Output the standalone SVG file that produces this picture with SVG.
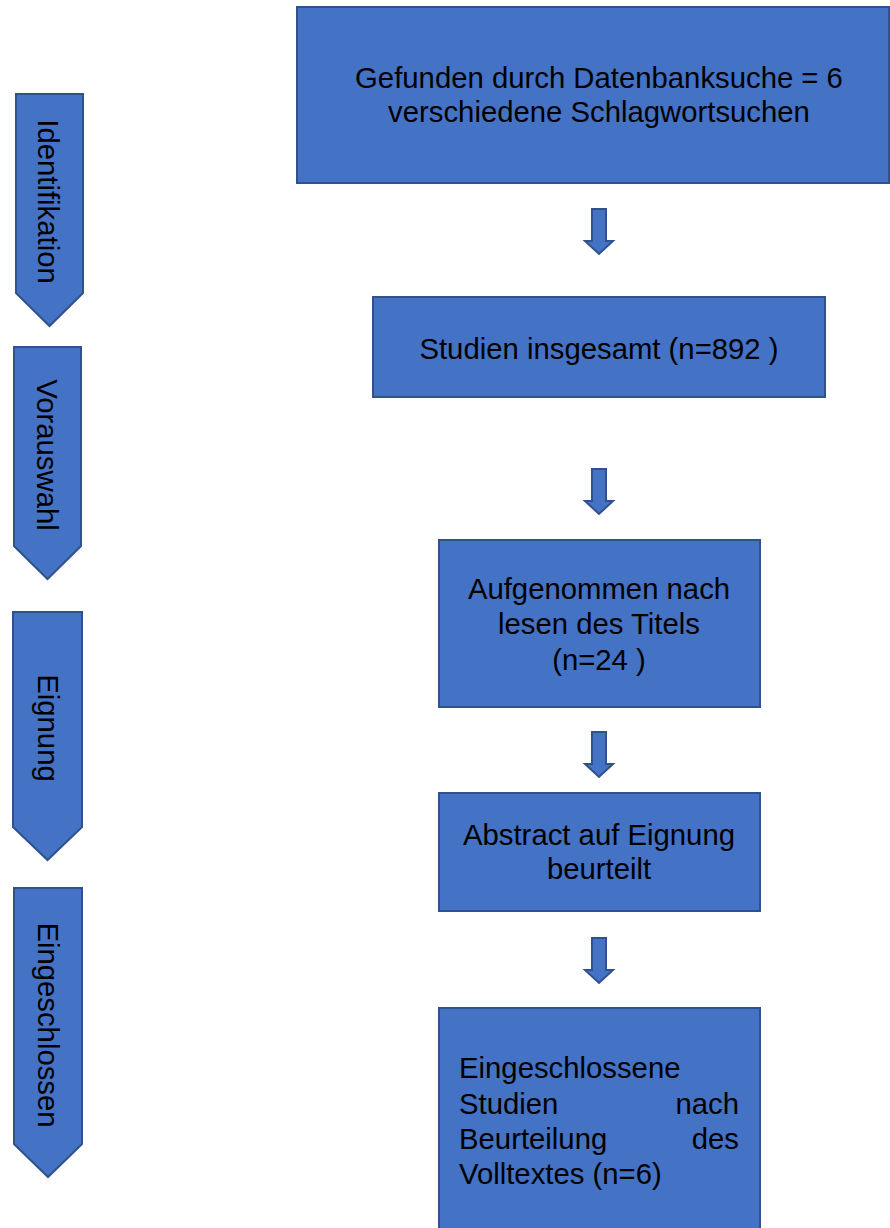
<svg xmlns="http://www.w3.org/2000/svg" width="890" height="1228" viewBox="0 0 890 1228">
<style>
.box{fill:#4472C4;stroke:#2F528F;stroke-width:2}
.arr{fill:#4472C4;stroke:#2F528F;stroke-width:2;stroke-linejoin:miter}
.t{font-family:"Liberation Sans",Arial,sans-serif;font-size:29.3px;fill:#000}
.c{text-anchor:middle}
.e{text-anchor:end}
</style>
<rect width="890" height="1228" fill="#fff"/>
<g id="phase-identifikation">
<path class="box" d="M16 94 H83 V293 L49.5 326 L16 293 Z"/>
<text class="t c" transform="translate(38,201.5) rotate(90)">Identifikation</text>
</g>
<g id="phase-vorauswahl">
<path class="box" d="M14 347 H81 V546 L47.5 579 L14 546 Z"/>
<text class="t c" transform="translate(37,455) rotate(90)">Vorauswahl</text>
</g>
<g id="phase-eignung">
<path class="box" d="M13 612 H82 V827 L47.5 860 L13 827 Z"/>
<text class="t c" transform="translate(38,728) rotate(90)">Eignung</text>
</g>
<g id="phase-eingeschlossen">
<path class="box" d="M14 888 H82 V1144 L48 1177 L14 1144 Z"/>
<text class="t c" transform="translate(38,1025) rotate(90)">Eingeschlossen</text>
</g>
<g id="node-datenbanksuche">
<rect class="box" x="297" y="7" width="592" height="176"/>
<text class="t c" x="599" y="88">Gefunden durch Datenbanksuche = 6</text>
<text class="t c" x="599" y="122">verschiedene Schlagwortsuchen</text>
</g>
<g id="node-studien-insgesamt">
<rect class="box" x="373" y="297" width="452" height="100"/>
<text class="t c" x="599" y="359">Studien insgesamt (n=892 )</text>
</g>
<g id="node-titel">
<rect class="box" x="439" y="540" width="321" height="167"/>
<text class="t c" x="599" y="599">Aufgenommen nach</text>
<text class="t c" x="599" y="634">lesen des Titels</text>
<text class="t c" x="599" y="670">(n=24 )</text>
</g>
<g id="node-abstract">
<rect class="box" x="439" y="793" width="321" height="118"/>
<text class="t c" x="599" y="845">Abstract auf Eignung</text>
<text class="t c" x="599" y="879">beurteilt</text>
</g>
<g id="node-eingeschlossen">
<rect class="box" x="439" y="1008" width="321" height="240"/>
<text class="t" x="459" y="1078">Eingeschlossene</text>
<text class="t" x="459" y="1114">Studien</text>
<text class="t e" x="739" y="1114">nach</text>
<text class="t" x="459" y="1149">Beurteilung</text>
<text class="t e" x="739" y="1149">des</text>
<text class="t" x="459" y="1184">Volltextes (n=6)</text>
</g>
<g id="connectors">
<path class="arr" d="M592 209 H606 V241 H613 L599 254 L585 241 H592 Z"/>
<path class="arr" d="M592 469 H606 V501 H613 L599 514 L585 501 H592 Z"/>
<path class="arr" d="M592 732 H606 V764 H613 L599 777 L585 764 H592 Z"/>
<path class="arr" d="M592 938 H606 V970 H613 L599 983 L585 970 H592 Z"/>
</g>
</svg>
